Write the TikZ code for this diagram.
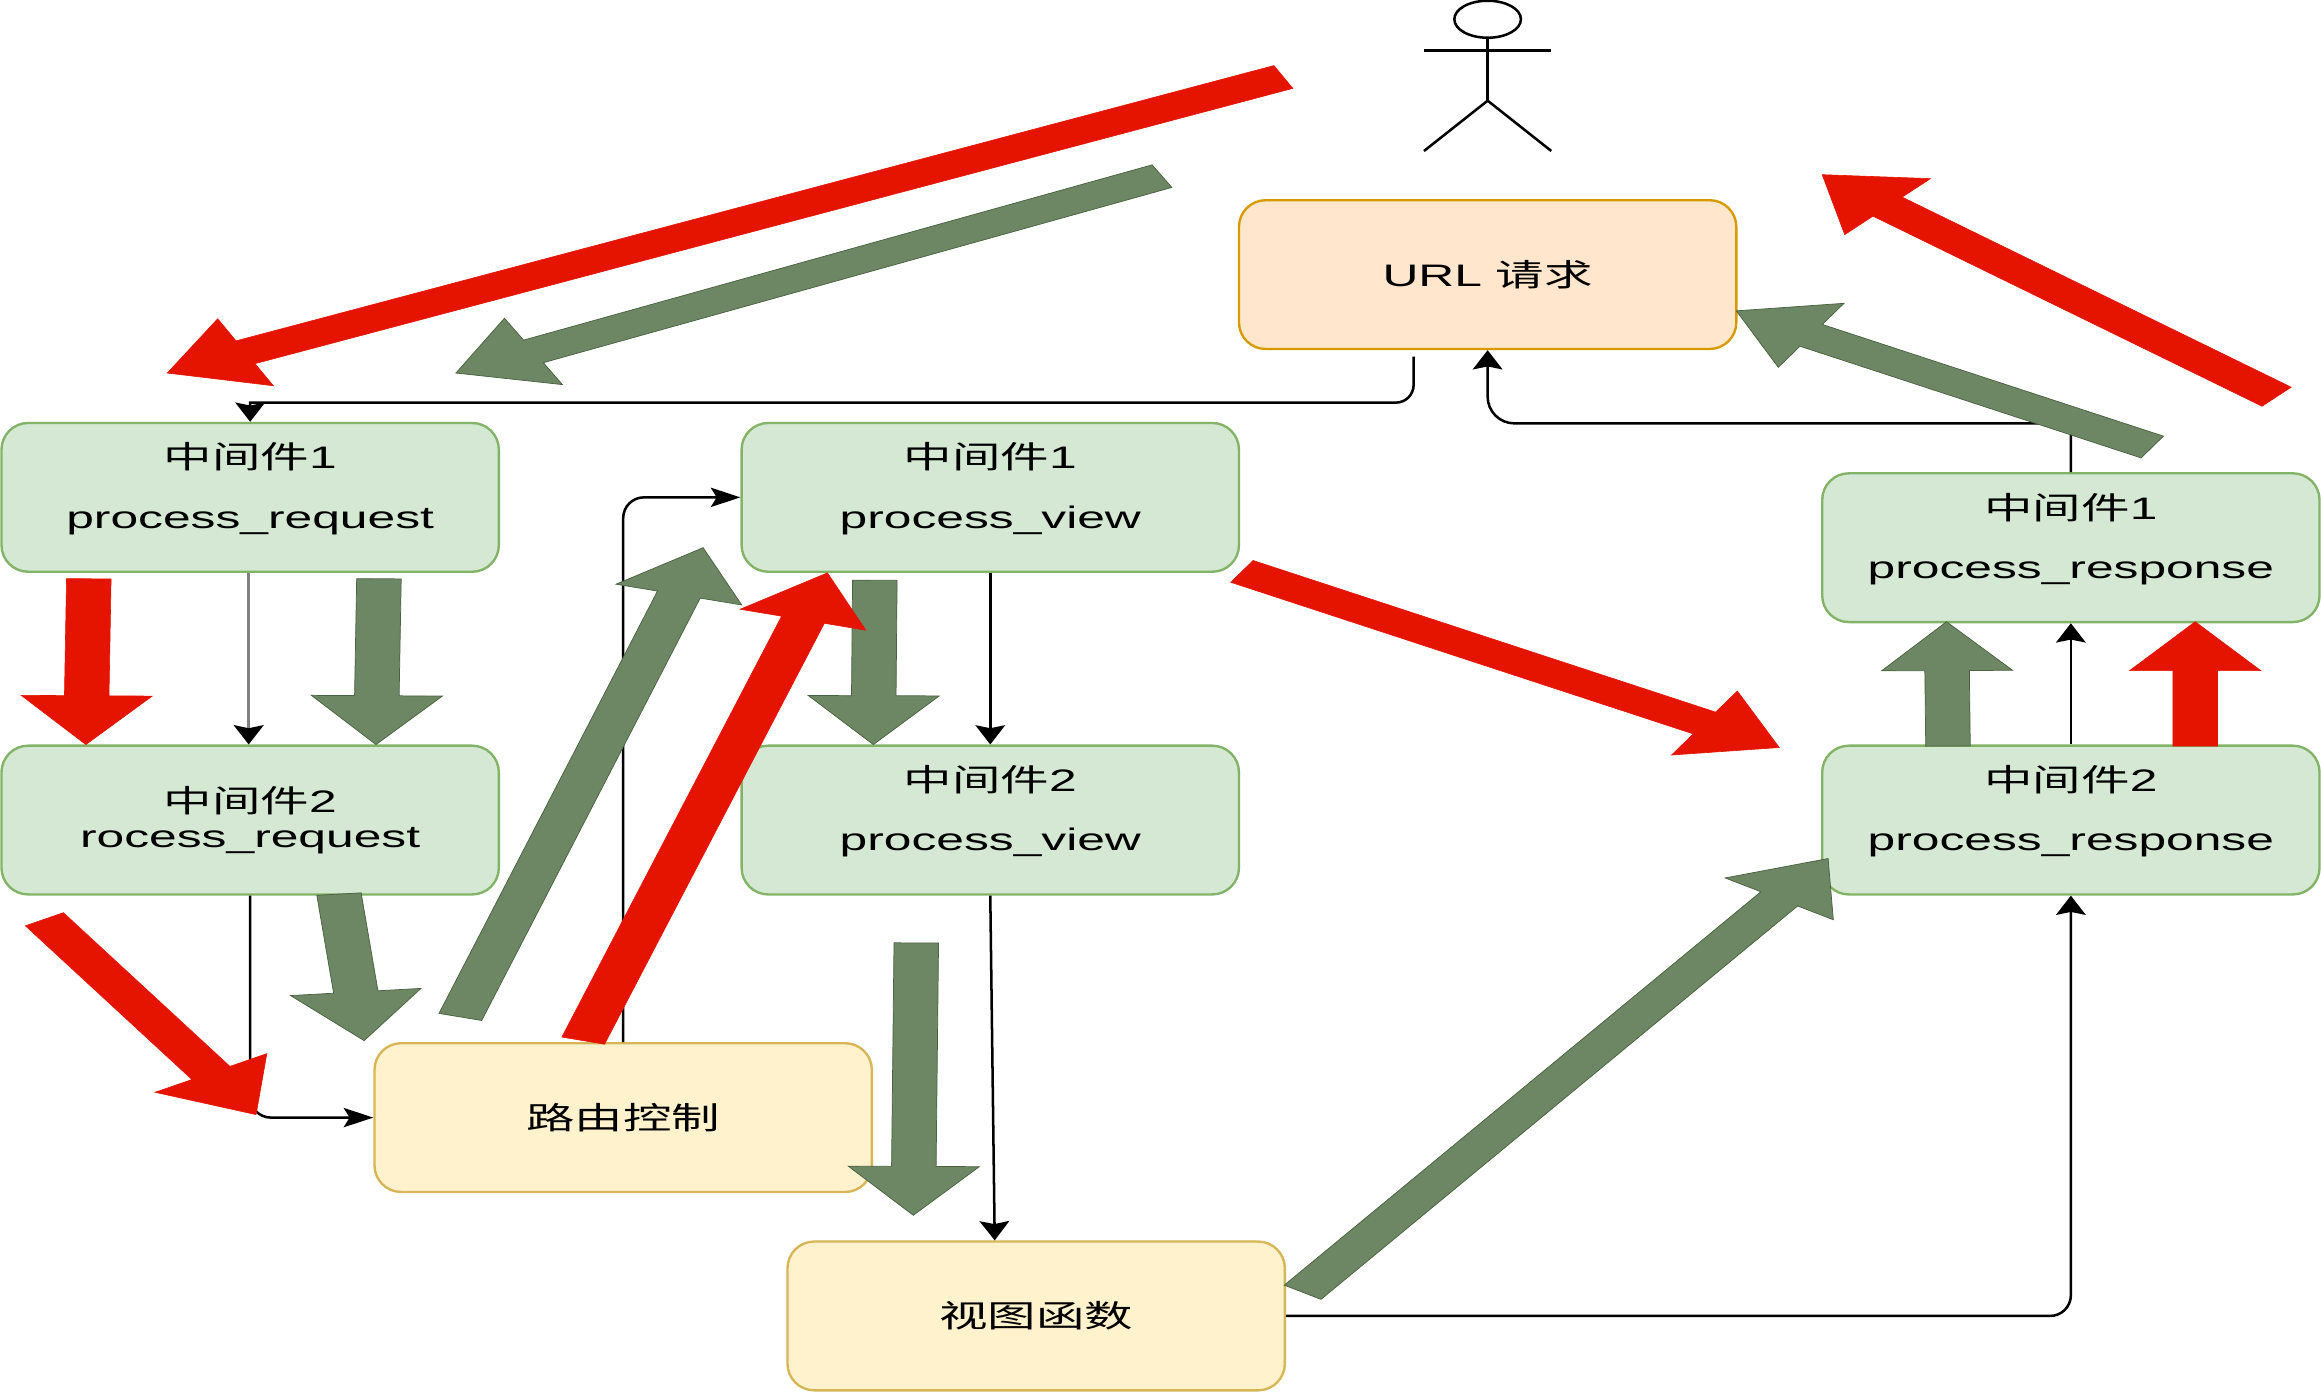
\documentclass[tikz,border=0pt]{standalone}
\usepackage{fontspec}
\setmainfont[FakeStretch=1.6]{Liberation Sans}
\newfontfamily\cjk[FakeStretch=1.56]{Noto Sans CJK SC}
\usetikzlibrary{calc, shapes.geometric, arrows.meta}

\definecolor{redfat}{HTML}{E51400}
\definecolor{greenfat}{HTML}{6D8764}
\definecolor{greenedge}{HTML}{3A5431}

% the picture is wider than it is tall by this factor
\def\xstretch{1.77}
\def\shaftw{8.5}
\def\headw{25}
\def\headl{33}

\newcommand{\fatarrow}[4]{%
  \coordinate (#2a) at (#3);
  \coordinate (#2b) at (#4);
  \filldraw[#1] let \p1=(#2a), \p2=(#2b),
      \n1={(\x2-\x1)/\xstretch}, \n2={\y2-\y1}, \n3={veclen(\n1,\n2)},
      \n4={\n1/\n3}, \n5={\n2/\n3},
      \n6={\x2-\xstretch*\n4*\headl}, \n7={\y2-\n5*\headl} in
    ({\x1-\xstretch*\n5*\shaftw},{\y1+\n4*\shaftw})
    -- ({\n6-\xstretch*\n5*\shaftw},{\n7+\n4*\shaftw})
    -- ({\n6-\xstretch*\n5*\headw},{\n7+\n4*\headw})
    -- (#2b)
    -- ({\n6+\xstretch*\n5*\headw},{\n7-\n4*\headw})
    -- ({\n6+\xstretch*\n5*\shaftw},{\n7-\n4*\shaftw})
    -- ({\x1+\xstretch*\n5*\shaftw},{\y1-\n4*\shaftw}) -- cycle;
}

\begin{document}
\begin{tikzpicture}[
    x=1pt, y=-1pt,
    every node/.style={font=\fontsize{21}{22}\selectfont},
    box/.style={rectangle, draw, line width=1.6pt, rounded corners=18pt, minimum width=336pt, minimum height=100.5pt, align=center, inner sep=0pt},
    midbox/.style={box, draw={rgb,255:red,130;green,179;blue,102}, fill={rgb,255:red,213;green,232;blue,212}},
    urlbox/.style={box, draw={rgb,255:red,215;green,155;blue,0}, fill={rgb,255:red,255;green,230;blue,204}},
    funcbox/.style={box, draw={rgb,255:red,214;green,182;blue,86}, fill={rgb,255:red,255;green,242;blue,204}},
    varrow/.style={-{Stealth[width=20pt,length=13pt,inset=2pt,black]}, line width=1.7pt},
    harrow/.style={-{Stealth[width=13pt,length=20pt,inset=4pt,black]}, line width=1.7pt},
    redarrow/.style={fill=redfat, draw=redfat, line width=0.4pt},
    greenarrow/.style={fill=greenfat, draw=greenedge!70!greenfat, line width=0.5pt}
]
    \useasboundingbox (0,0) rectangle (1568,940);

    % Actor
    \node[ellipse, draw, line width=1.7pt, minimum width=45pt, minimum height=25pt, inner sep=0pt] (head) at (1005,13) {};
    \coordinate (hip) at (1005,68);
    \coordinate (armleft) at (962,34);
    \coordinate (armright) at (1048,34);
    \coordinate (footleft) at (962,102);
    \coordinate (footright) at (1048,102);
    \draw[line width=1.7pt] (head.south) -- (hip);
    \draw[line width=1.7pt] (armleft) -- (armright);
    \draw[line width=1.7pt] (footleft) -- (hip) -- (footright);

    % Boxes
    \node[urlbox] (url) at (1005,185.5) {URL {\cjk 请求}};
    \node[midbox] (req1) at (169,336) {{\cjk 中间件}1\\[18pt]process\_request\\[-6pt]\mbox{}};
    \node[midbox] (req2) at (169,554) {{\cjk 中间件}2\\[2pt]rocess\_request};
    \node[midbox] (view1) at (669,336) {{\cjk 中间件}1\\[18pt]process\_view\\[-6pt]\mbox{}};
    \node[midbox] (view2) at (669,554) {{\cjk 中间件}2\\[18pt]process\_view\\[-6pt]\mbox{}};
    \node[midbox] (resp1) at (1399,370) {{\cjk 中间件}1\\[18pt]process\_response\\[-6pt]\mbox{}};
    \node[midbox] (resp2) at (1399,554) {{\cjk 中间件}2\\[18pt]process\_response\\[-6pt]\mbox{}};
    \node[funcbox] (router) at (421,755) {\cjk 路由控制};
    \node[funcbox] (viewfn) at (700,889) {\cjk 视图函数};

    % Thin connectors
    \coordinate (urlout) at (955,241);
    \draw[varrow] (urlout) [rounded corners=12pt] -- (955,272) [sharp corners] -- (req1.north |- 0,272) -- (req1.north);
    \draw[varrow, gray, line width=2.2pt] ([xshift=-1pt]req1.south) -- ([xshift=-1pt]req2.north);
    \draw[harrow, rounded corners=14pt] (req2.south) |- (router.west);
    \draw[harrow, rounded corners=14pt] (router.north) |- (view1.west);
    \draw[varrow] (view1.south) -- (view2.north);
    \draw[varrow] (view2.south) -- ($(viewfn.north)+(-28,0)$);
    \draw[varrow, rounded corners=14pt] (viewfn.east) -| (resp2.south);
    \draw[varrow] (resp2.north) -- (resp1.south);
    \draw[varrow] (resp1.north) -- (1399,286) [rounded corners=18pt] -- (1005,286) -- (url.south);

    % Green arrows
    \fatarrow{greenarrow}{ga}{785,119}{308,252}
    \fatarrow{greenarrow}{gb}{256,391}{254,503}
    \fatarrow{greenarrow}{gc}{229,604}{246,703}
    \fatarrow{greenarrow}{gd}{311,687}{475,370}
    \fatarrow{greenarrow}{ge}{591,392}{590,503}
    \fatarrow{greenarrow}{gf}{619,637}{617,821}
    \fatarrow{greenarrow}{gg}{880,873}{1235,580}
    \fatarrow{greenarrow}{gh}{1316,504}{1315,420}
    \fatarrow{greenarrow}{gi}{1454,302}{1173,210}

    % Red arrows
    \fatarrow{redarrow}{ra}{867,52}{113,252}
    \fatarrow{redarrow}{rb}{60,391}{58,503}
    \fatarrow{redarrow}{rc}{30,621}{173,753}
    \fatarrow{redarrow}{rd}{394,703}{559,387}
    \fatarrow{redarrow}{re}{839,386}{1202,505}
    \fatarrow{redarrow}{rf}{1483,504}{1483,420}
    \fatarrow{redarrow}{rg}{1538,268}{1231,118}
\end{tikzpicture}
\end{document}
